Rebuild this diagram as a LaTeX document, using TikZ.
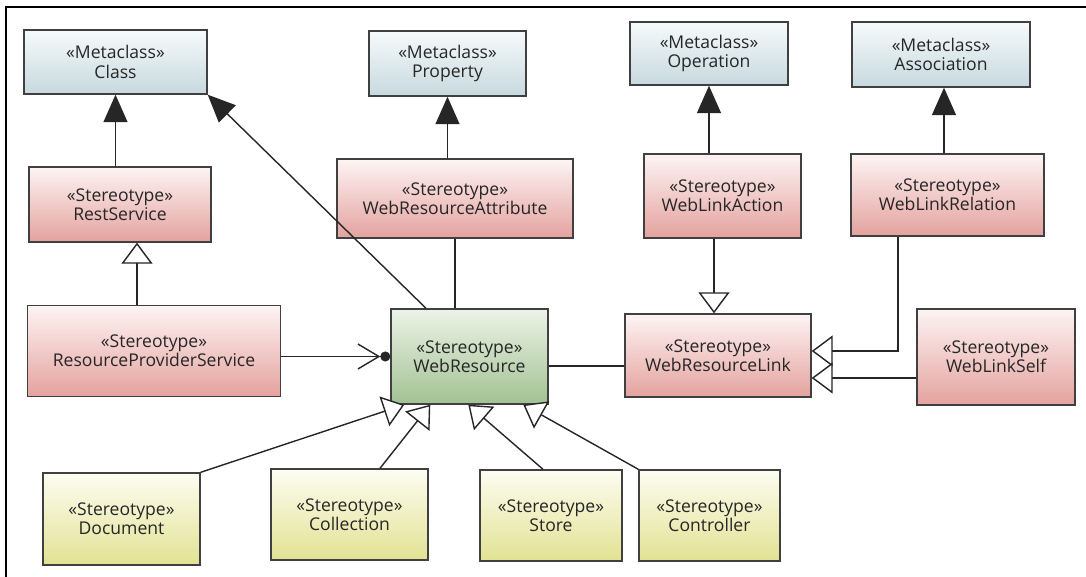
\documentclass[tikz,border=0pt]{standalone}
\usepackage{fontspec}
\setmainfont{Open Sans}
\usetikzlibrary{arrows.meta}
\usetikzlibrary{calc}
\usepackage{xcolor}
\definecolor{metatop}{HTML}{F6FAFB}
\definecolor{metabot}{HTML}{C7D9DE}
\definecolor{redtop}{HTML}{FDF4F4}
\definecolor{redbot}{HTML}{E4A29E}
\definecolor{greentop}{HTML}{EDF3E8}
\definecolor{greenbot}{HTML}{A2C192}
\definecolor{yellowtop}{HTML}{FDFDF2}
\definecolor{yellowbot}{HTML}{E2E293}

\begin{document}
\begin{tikzpicture}[x=0.02cm, y=-0.02cm,
    box/.style={draw=black!75, line width=0.8pt, align=center, inner sep=0pt,
        text=black!85, font=\fontsize{10}{11}\selectfont},
    boxsize/.style 2 args={minimum width=#1*0.02cm, minimum height=#2*0.02cm},
    meta/.style={box, top color=metatop, bottom color=metabot},
    stereo/.style={box, top color=redtop, bottom color=redbot},
    resource/.style={box, top color=greentop, bottom color=greenbot},
    kind/.style={box, top color=yellowtop, bottom color=yellowbot},
    link/.style={line width=0.8pt, black!85},
    ext/.style={link, -{Triangle[length=0.55cm, width=0.48cm]}},
    gen/.style={link, -{Triangle[open, fill=white, length=0.42cm, width=0.62cm]}},
    use/.style={link, -{Straight Barb[length=0.42cm, width=0.5cm] Circle[length=0.2cm]}}]
    \useasboundingbox (0,0) rectangle (1086,577);
    \draw[line width=1.2pt] (6,577) -- (6,7) -- (1086,7);

    \node[meta, boxsize={183}{64}] at (115.5, 62) (Class) {«Metaclass»\\Class};
    \node[meta, boxsize={157}{65}] at (447.5, 63.5) (Property) {«Metaclass»\\Property};
    \node[meta, boxsize={158}{63}] at (709, 53.5) (Operation) {«Metaclass»\\Operation};
    \node[meta, boxsize={178}{65}] at (941, 54.5) (Association) {«Metaclass»\\Association};

    \node[stereo, boxsize={182}{75}] at (120, 204.5) (RestService) {«Stereotype»\\RestService};
    \node[stereo, boxsize={236}{79}] at (455, 198.5) (WebResourceAttribute) {«Stereotype»\\WebResourceAttribute};
    \node[stereo, boxsize={157}{84}] at (722.5, 196) (WebLinkAction) {«Stereotype»\\WebLinkAction};
    \node[stereo, boxsize={193}{82}] at (947.5, 195) (WebLinkRelation) {«Stereotype»\\WebLinkRelation};

    \node[stereo, boxsize={253}{91}] at (154, 351) (ResourceProviderService) {«Stereotype»\\ResourceProviderService};
    \node[resource, boxsize={157}{95}] at (469.5, 356.5) (WebResource) {«Stereotype»\\WebResource};
    \node[stereo, boxsize={186}{83}] at (718, 355.5) (WebResourceLink) {«Stereotype»\\WebResourceLink};
    \node[stereo, boxsize={158}{96}] at (996, 357) (WebLinkSelf) {«Stereotype»\\WebLinkSelf};

    \node[kind, boxsize={157}{92}] at (121.5, 519) (Document) {«Stereotype»\\Document};
    \node[kind, boxsize={157}{91}] at (349.5, 514.5) (Collection) {«Stereotype»\\Collection};
    \node[kind, boxsize={142}{91}] at (551, 515.5) (Store) {«Stereotype»\\Store};
    \node[kind, boxsize={141}{91}] at (709.5, 515.5) (Controller) {«Stereotype»\\Controller};

    \coordinate (ResourceTop) at ($(WebResource.north)+(-43.5,0)$);
    \coordinate (RelationTop) at ($(WebLinkRelation.north)+(-3.5,0)$);
    \coordinate (RelationBottom) at ($(WebLinkRelation.south)+(-49.5,0)$);
    \coordinate (ProviderTop) at ($(ResourceProviderService.north)+(-17,0)$);
    \coordinate (ActionBottom) at ($(WebLinkAction.south)+(-8.5,0)$);
    \coordinate (ResourceRight) at ($(WebResource.east)+(0,9.5)$);
    \coordinate (RelationIn) at ($(WebResourceLink.east)+(0,-4.5)$);
    \coordinate (SelfIn) at ($(WebResourceLink.east)+(0,22.5)$);
    \coordinate (CollectionTop) at ($(Collection.north)+(30.5,0)$);
    \coordinate (StoreTop) at ($(Store.north)+(-8,0)$);

    \draw[ext] (RestService.north -| Class.south) -- (Class.south);
    \draw[ext] (ResourceTop) -- (Class.south east);
    \draw[ext] (WebResourceAttribute.north -| Property.south) -- (Property.south);
    \draw[ext] (WebLinkAction.north -| Operation.south) -- (Operation.south);
    \draw[ext] (RelationTop) -- (RelationTop |- Association.south);
    \draw[link] (WebResourceAttribute.south) -- (WebResourceAttribute.south |- WebResource.north);
    \draw[gen] (ProviderTop) -- (ProviderTop |- RestService.south);
    \draw[use] (ResourceProviderService.east |- WebResource.west) -- (WebResource.west);
    \draw[link] (ResourceRight) -- (ResourceRight -| WebResourceLink.west);
    \draw[gen] (ActionBottom) -- (ActionBottom |- WebResourceLink.north);
    \draw[gen] (RelationBottom) |- (RelationIn);
    \draw[gen] (WebLinkSelf.west |- SelfIn) -- (SelfIn);
    \draw[gen] (Document.north east) -- ($(WebResource.south west)+(14,0)$);
    \draw[gen] (CollectionTop) -- ($(WebResource.south west)+(40,0)$);
    \draw[gen] (StoreTop) -- ($(WebResource.south west)+(78,0)$);
    \draw[gen] (Controller.north west) -- ($(WebResource.south west)+(133,0)$);
\end{tikzpicture}
\end{document}
